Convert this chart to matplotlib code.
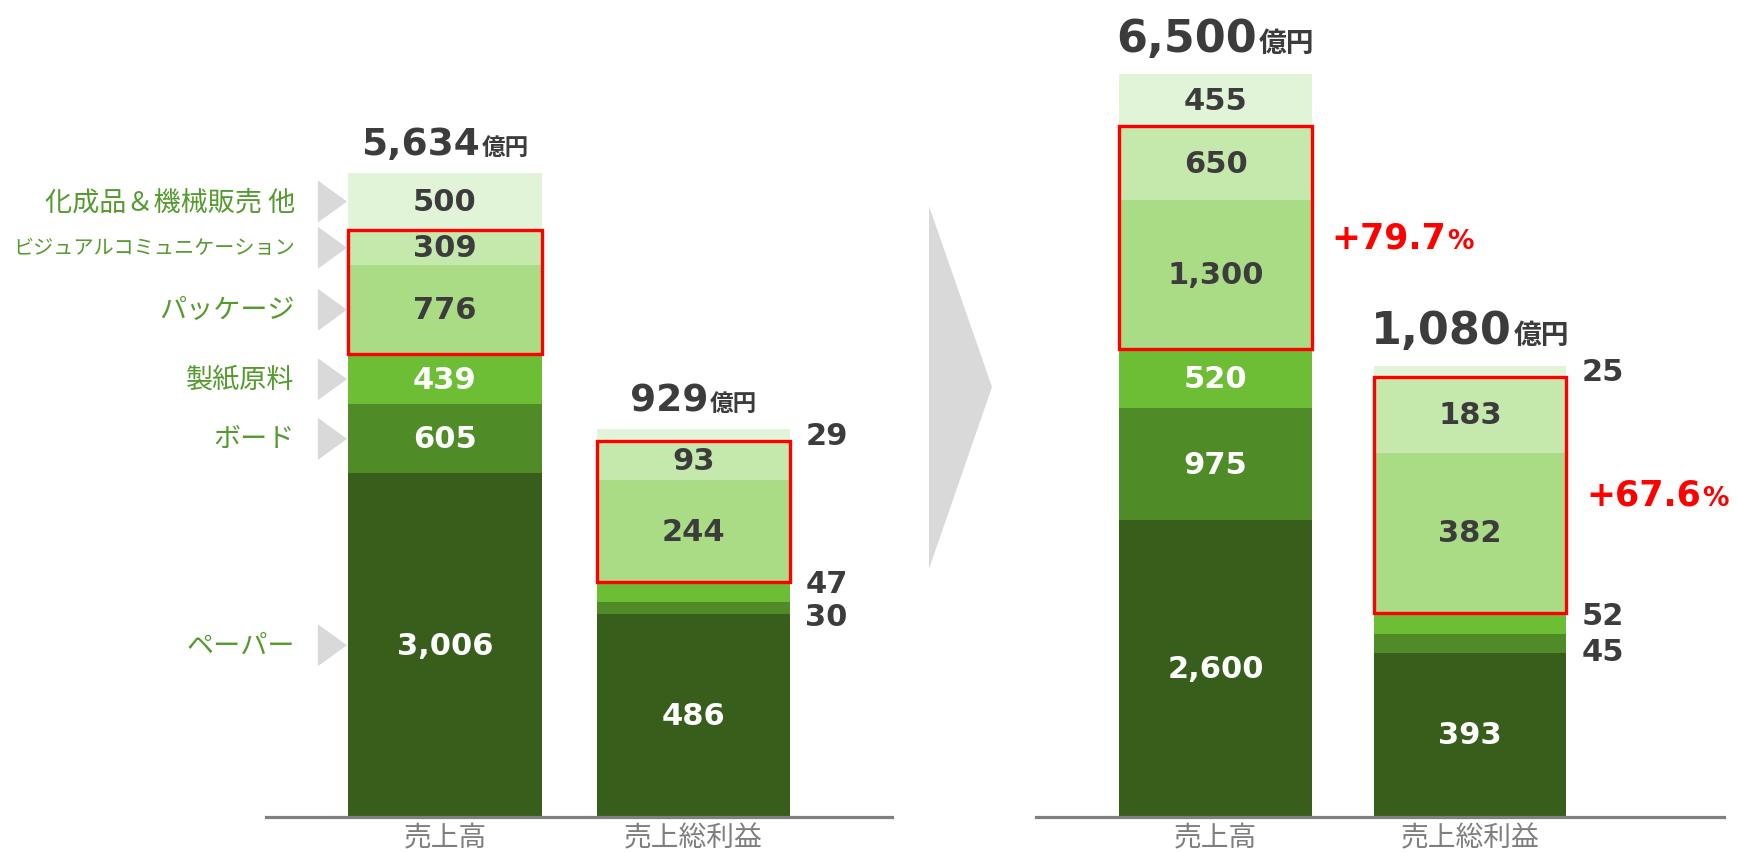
import numpy as np
import matplotlib.pyplot as plt
from matplotlib.patches import Polygon, Rectangle
from matplotlib.offsetbox import TextArea, HPacker, AnnotationBbox

plt.rcParams['font.family'] = ['Noto Sans CJK JP', 'DejaVu Sans']

# data
segments = ["ペーパー", "ボード", "製紙原料", "パッケージ",
            "ビジュアルコミュニケーション", "化成品＆機械販売 他"]
bar_names = ["売上高", "売上総利益"]

sales_before = [3006, 605, 439, 776, 309, 500]
gross_before = [486, 30, 47, 244, 93, 29]
sales_after = [2600, 975, 520, 1300, 650, 455]
gross_after = [393, 45, 52, 382, 183, 25]

totals_before = [5634, 929]
totals_after = [6500, 1080]
growth_after = ["+79.7", "+67.6"]
highlight = [3, 4]  # パッケージ + ビジュアルコミュニケーション

colors = ['#375F1B', '#4F8C28', '#6DBE35', '#A9DC85', '#C5E8AD', '#E2F4D8']
dark = '#3C3C3C'
green_txt = '#559A2F'
gray_txt = '#7F7F7F'

W, H = 1737, 853
SALES_TOP = 7157   # sales axis upper limit
GROSS_TOP = 1960   # gross profit axis upper limit

fig = plt.figure(figsize=(W / 100, H / 100), dpi=100)


def fmt(v):
    return "{:,}".format(v)


def total_label(a, x, value, num_size, unit_size, dy):
    num = TextArea(fmt(value), textprops=dict(fontsize=num_size, fontweight='bold',
                                              color=dark, family='DejaVu Sans'))
    unit = TextArea("億円", textprops=dict(fontsize=unit_size, fontweight='bold',
                                          color=dark, family='Noto Sans CJK JP'))
    pack = HPacker(children=[num, unit], align='baseline', pad=0, sep=1)
    ab = AnnotationBbox(pack, (x, value), xycoords='data', xybox=(0, dy),
                        boxcoords='offset points', box_alignment=(0.5, 0),
                        frameon=False, pad=0)
    a.add_artist(ab)


def draw_panel(left, width, xlim, bw, sales, gross, totals, num_size, unit_size, dy,
               growth=None):
    ax = fig.add_axes([left / W, 35 / H, width / W, 818 / H])
    ax2 = ax.twinx()
    ax.set_xlim(xlim)
    ax.set_ylim(0, SALES_TOP)
    ax2.set_ylim(0, GROSS_TOP)

    for a, x, vals, total, k in ((ax, 0, sales, totals[0], 0), (ax2, 1, gross, totals[1], 1)):
        vals = np.array(vals)
        bottoms = np.concatenate([[0], np.cumsum(vals)[:-1]])
        a.bar([x] * len(vals), vals, bw, bottom=bottoms, color=colors, linewidth=0)
        scale = 818 / a.get_ylim()[1]
        for i, (v, b) in enumerate(zip(vals, bottoms)):
            c = b + v / 2
            if v * scale > 30:
                a.text(x, c, fmt(v), ha='center', va='center', fontsize=22,
                       fontweight='bold', family='DejaVu Sans',
                       color='white' if i < 3 else dark)
            else:
                shift = {1: -6, 2: 6}.get(i, 0)
                a.annotate(fmt(v), (x + bw / 2, c), xytext=(11, shift),
                           textcoords='offset points', ha='left', va='center',
                           fontsize=22, fontweight='bold', family='DejaVu Sans',
                           color=dark)
        # red highlight box
        lo = bottoms[highlight[0]]
        hi = bottoms[highlight[-1]] + vals[highlight[-1]]
        a.add_patch(Rectangle((x - bw / 2, lo), bw, hi - lo, fill=False,
                              edgecolor='#FF0000', linewidth=2.4, zorder=4))
        total_label(a, x, total, num_size, unit_size, dy)

        if growth is not None:
            num = TextArea(growth[k], textprops=dict(fontsize=25, fontweight='bold',
                                                     color='#FF0000', family='DejaVu Sans'))
            pct = TextArea("%", textprops=dict(fontsize=19, fontweight='bold',
                                               color='#FF0000', family='DejaVu Sans'))
            pack = HPacker(children=[num, pct], align='baseline', pad=0, sep=1)
            a.add_artist(AnnotationBbox(pack, (x + bw / 2, (lo + hi) / 2), xycoords='data',
                                        xybox=(14, 0), boxcoords='offset points',
                                        box_alignment=(0, 0.5), frameon=False, pad=0))

    for s in ax.spines.values():
        s.set_visible(False)
    for name, s in ax2.spines.items():
        s.set_visible(name == 'bottom')
    ax2.spines['bottom'].set_color('#808080')
    ax2.spines['bottom'].set_linewidth(2.3)
    ax.set_yticks([])
    ax2.set_yticks([])
    ax.set_xticks([0, 1], bar_names)
    ax.tick_params(axis='x', length=0, labelsize=20, labelcolor=gray_txt, pad=4)
    return ax


ax_l = draw_panel(266, 626, (-0.7203, 1.7988), 0.777, sales_before, gross_before,
                  totals_before, 27, 17, 8)
draw_panel(1036, 688, (-0.7053, 1.998), 0.758, sales_after, gross_after,
           totals_after, 32, 20, 10, growth=growth_after)

# category labels with arrow markers on the left panel
bw = 0.777
centers = np.cumsum(sales_before) - np.array(sales_before) / 2
for name, c in zip(segments, centers):
    size = 14.5 if len(name) > 10 else 19.5
    ax_l.text(-0.604, c, name, ha='right', va='center', fontsize=size, color=green_txt)
    tip = -bw / 2 - 0.006
    base = -bw / 2 - 0.123
    ax_l.add_patch(Polygon([[base, c + 184], [tip, c], [base, c - 184]],
                           closed=True, color='#D9D9D9', linewidth=0, clip_on=False))

# big chevron between the panels
fig.add_artist(Polygon([[929 / W, 1 - 207 / H], [992 / W, 1 - 388 / H], [929 / W, 1 - 570 / H]],
                       closed=True, transform=fig.transFigure, color='#D9D9D9', linewidth=0))

fig.savefig("out.png", dpi=100)
